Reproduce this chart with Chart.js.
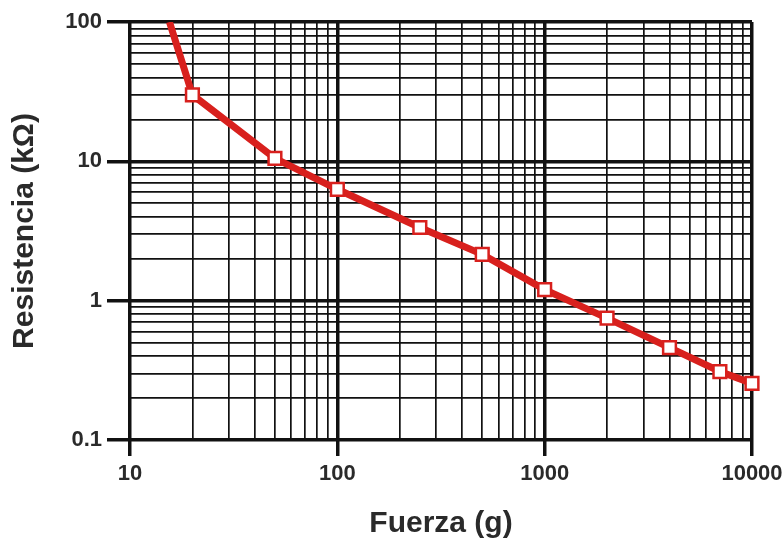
<!DOCTYPE html>
<html>
<head>
<meta charset="utf-8">
<script src="https://cdn.jsdelivr.net/npm/chart.js@4/dist/chart.umd.min.js"></script>
<style>
  html, body { margin: 0; padding: 0; background: #fff; }
  #wrap { width: 784px; height: 542px; }
</style>
</head>
<body>
<div id="wrap"><canvas id="c" width="784" height="542"></canvas></div>
<script>
'use strict';

// ── data ──────────────────────────────────────────────────────────────────────
const fuerza      = [15.5, 20, 50, 100, 250, 500, 1000, 2000, 4000, 7000, 10000];
const resistencia = [100, 30, 10.5, 6.3, 3.35, 2.15, 1.2, 0.75, 0.46, 0.31, 0.255];
const marcador    = [false, true, true, true, true, true, true, true, true, true, true];

const xMajor = [10, 100, 1000, 10000];
const yMajor = [0.1, 1, 10, 100];
const xLabels = ['10', '100', '1000', '10000'];
const yLabels = ['0.1', '1', '10', '100'];

// ── helpers ───────────────────────────────────────────────────────────────────
const RED = '#d8201d';
const INK = '#2a2a2a';
const FONT = 'Liberation Sans, Arial, sans-serif';

// minor lines at 2..9 of every decade
function logTicks(majors) {
  const out = [];
  majors.forEach((m, i) => {
    out.push({ value: m, major: true });
    if (i < majors.length - 1) {
      for (let k = 2; k <= 9; k++) out.push({ value: m * k, major: false });
    }
  });
  return out;
}

function labelFor(majors, labels, v) {
  const i = majors.findIndex(m => Math.abs(m - v) / m < 1e-9);
  return i >= 0 ? labels[i] : '';
}

const isMajor = c => c.tick && c.tick.major;

// ── chart ─────────────────────────────────────────────────────────────────────
new Chart(document.getElementById('c'), {
  type: 'line',
  data: {
    datasets: [{
      data: fuerza.map((x, i) => ({ x, y: resistencia[i] })),
      borderColor: RED,
      borderWidth: 7,
      tension: 0,
      pointStyle: 'rect',
      pointRadius: marcador.map(m => m ? 9 : 0),
      pointBorderWidth: 2.5,
      pointBorderColor: RED,
      pointBackgroundColor: '#fff',
      clip: { left: 0, top: 0, right: 12, bottom: 0 },
    }]
  },
  options: {
    responsive: false,
    animation: false,
    layout: { padding: { left: 0, top: 22, right: 32, bottom: 0 } },
    plugins: { legend: { display: false }, tooltip: { enabled: false } },
    scales: {
      x: {
        type: 'logarithmic',
        min: 10, max: 10000,
        afterBuildTicks: s => { s.ticks = logTicks(xMajor); },
        afterFit: s => { s.height = 102; s.paddingLeft = 0; s.paddingRight = 0; },
        border: { display: false },
        grid: {
          color: '#111',
          lineWidth: c => isMajor(c) ? 3.5 : 1.7,
          drawTicks: true,
          tickLength: 16,
          tickColor: c => isMajor(c) ? '#111' : 'rgba(0,0,0,0)',
          tickWidth: c => isMajor(c) ? 3.5 : 0,
        },
        ticks: {
          autoSkip: false,
          maxRotation: 0,
          padding: 5,
          color: INK,
          font: { family: FONT, size: 22, weight: 'bold' },
          callback: v => labelFor(xMajor, xLabels, v),
        },
        title: {
          display: true,
          text: 'Fuerza (g)',
          color: INK,
          font: { family: FONT, size: 30, weight: 'bold' },
          padding: { top: 1, bottom: 0 },
        },
      },
      y: {
        type: 'logarithmic',
        min: 0.1, max: 100,
        afterBuildTicks: s => { s.ticks = logTicks(yMajor); },
        afterFit: s => { s.width = 130; s.paddingTop = 0; s.paddingBottom = 0; },
        border: { display: false },
        grid: {
          color: '#111',
          lineWidth: c => isMajor(c) ? 3.5 : 1.7,
          drawTicks: true,
          tickLength: 23,
          tickColor: c => isMajor(c) ? '#111' : 'rgba(0,0,0,0)',
          tickWidth: c => isMajor(c) ? 3.5 : 0,
        },
        ticks: {
          autoSkip: false,
          padding: 5,
          color: INK,
          font: { family: FONT, size: 22, weight: 'bold' },
          callback: v => labelFor(yMajor, yLabels, v),
        },
        title: {
          display: true,
          text: 'Resistencia (kΩ)',
          color: INK,
          font: { family: FONT, size: 30, weight: 'bold' },
          padding: { top: 7, bottom: 0 },
        },
      },
    },
  },
});
</script>
</body>
</html>
